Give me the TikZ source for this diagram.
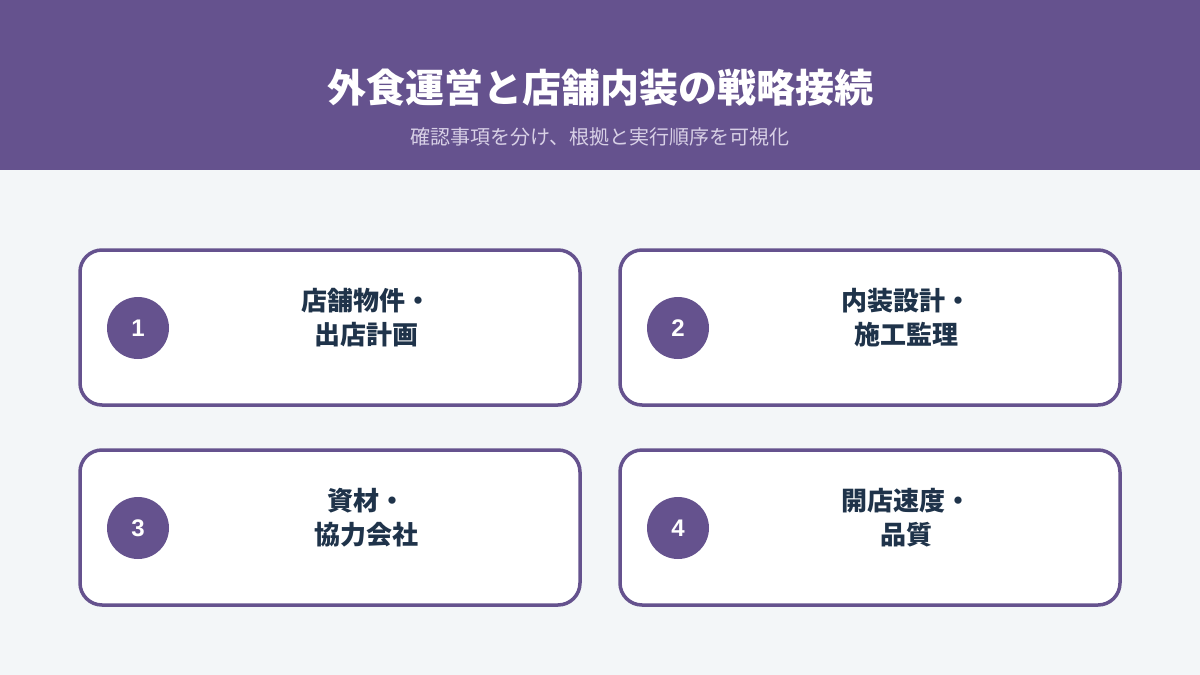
\documentclass[tikz,border=0pt]{standalone}
\usepackage{fontspec}
\setmainfont{Noto Sans CJK JP}
\newfontfamily\numfont{Liberation Sans}
\definecolor{hdr}{HTML}{65528E}
\definecolor{bgc}{HTML}{F3F6F8}
\definecolor{txt}{HTML}{1F334A}
\definecolor{subc}{HTML}{D8D0E6}
\tikzset{
  card/.style={draw=hdr, line width=3.5pt, fill=white, rounded corners=22pt},
  badge/.style={circle, fill=hdr, minimum size=62pt, inner sep=0pt, text=white, font=\numfont\bfseries\fontsize{24}{24}\selectfont},
  label/.style={align=center, text=txt, font=\bfseries\fontsize{26}{34}\selectfont, inner sep=0pt},
}
\begin{document}
\begin{tikzpicture}[x=1pt,y=-1pt]
\useasboundingbox (0,0) rectangle (1200,675);
\fill[bgc] (0,0) rectangle (1200,675);
\fill[hdr] (0,0) rectangle (1200,170);
\node[text=white, font=\bfseries\fontsize{39}{39}\selectfont] (title) at (600,88) {外食運営と店舗内装の戦略接続};
\node[text=subc, font=\fontsize{20}{20}\selectfont] (sub) at (600,137) {確認事項を分け、根拠と実行順序を可視化};
% cards
\draw[card] (80,250) rectangle (580,405);
\draw[card] (620,250) rectangle (1120,405);
\draw[card] (80,450) rectangle (580,605);
\draw[card] (620,450) rectangle (1120,605);
\node[badge] (b1) at (138,328) {1};
\node[badge] (b2) at (678,328) {2};
\node[badge] (b3) at (138,528) {3};
\node[badge] (b4) at (678,528) {4};
\node[label] (l1) at (366,318) {店舗物件・\\出店計画};
\node[label] (l2) at (906,318) {内装設計・\\施工監理};
\node[label] (l3) at (366,518) {資材・\\協力会社};
\node[label] (l4) at (906,518) {開店速度・\\品質};
\end{tikzpicture}
\end{document}
